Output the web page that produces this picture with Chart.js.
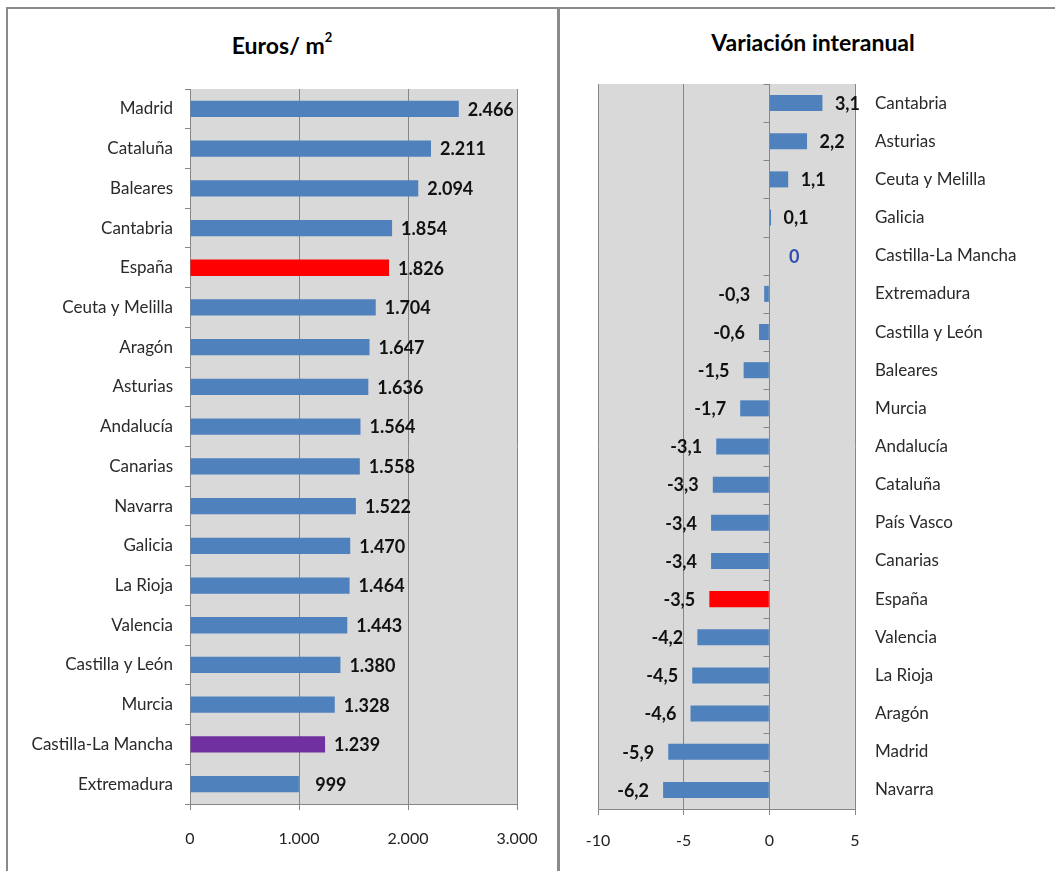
<!DOCTYPE html>
<html>
<head>
<meta charset="utf-8">
<script src="https://cdn.jsdelivr.net/npm/chart.js@4.4.1/dist/chart.umd.min.js"></script>
<style>
  body { margin: 0; background: #fff; width: 1055px; height: 871px; overflow: hidden; position: relative; font-family: Lato, "Open Sans", sans-serif; }
  .panel { position: absolute; top: 7px; border-top: 2px solid #8a8a8a; border-left: 2px solid #8a8a8a; box-sizing: border-box; }
  #leftPanel { left: 6px; width: 552px; height: 864px; }
  #rightPanel { left: 557px; width: 498px; height: 864px; border-left-width: 3px; }
  .title { position: absolute; font-weight: bold; font-size: 23px; color: #000; white-space: nowrap; transform: translate(-50%, -50%); }
  .title sup { font-size: 13px; vertical-align: top; position: relative; top: -2px; }
  .box { position: absolute; top: 8px; height: 863px; }
  #leftBox { left: 8px; width: 549px; }
  #rightBox { left: 560px; width: 495px; }
</style>
</head>
<body>
<div class="panel" id="leftPanel"></div>
<div class="panel" id="rightPanel"></div>
<div class="title" style="left:282px; top:45px;">Euros/ m<sup>2</sup></div>
<div class="title" style="left:813px; top:42px;">Variación interanual</div>
<div class="box" id="leftBox"><canvas id="priceChart"></canvas></div>
<div class="box" id="rightBox"><canvas id="changeChart"></canvas></div>

<script>
// Euros / m2 by region
const priceLabels = ['Madrid', 'Cataluña', 'Baleares', 'Cantabria', 'España', 'Ceuta y Melilla', 'Aragón', 'Asturias',
    'Andalucía', 'Canarias', 'Navarra', 'Galicia', 'La Rioja', 'Valencia', 'Castilla y León', 'Murcia',
    'Castilla-La Mancha', 'Extremadura'];
const priceValues = [2466, 2211, 2094, 1854, 1826, 1704, 1647, 1636, 1564, 1558, 1522, 1470, 1464, 1443, 1380, 1328, 1239, 999];
const priceTicks = [0, 1000, 2000, 3000];

// Variacion interanual (%)
const changeLabels = ['Cantabria', 'Asturias', 'Ceuta y Melilla', 'Galicia', 'Castilla-La Mancha', 'Extremadura',
    'Castilla y León', 'Baleares', 'Murcia', 'Andalucía', 'Cataluña', 'País Vasco', 'Canarias', 'España',
    'Valencia', 'La Rioja', 'Aragón', 'Madrid', 'Navarra'];
const changeValues = [3.1, 2.2, 1.1, 0.1, 0, -0.3, -0.6, -1.5, -1.7, -3.1, -3.3, -3.4, -3.4, -3.5, -4.2, -4.5, -4.6, -5.9, -6.2];
const changeTicks = [-10, -5, 0, 5];

const BLUE = '#4f81bd';
const highlight = { 'España': '#ff0000', 'Castilla-La Mancha': '#7030a0' };
const FONT = 'Lato, "Open Sans", sans-serif';
const GRID = '#868686';

function fmtThousands(v) {
    return String(v).replace(/\B(?=(\d{3})+(?!\d))/g, '.');
}
function fmtDecimal(v) {
    return v === 0 ? '0' : v.toFixed(1).replace('.', ',');
}

// gray plot area
const plotBackground = {
    id: 'plotBackground',
    beforeDraw(chart) {
        const a = chart.chartArea;
        chart.ctx.save();
        chart.ctx.fillStyle = '#d9d9d9';
        chart.ctx.fillRect(a.left, a.top, a.right - a.left, a.bottom - a.top);
        chart.ctx.restore();
    }
};

// bold value next to each bar end
const valueLabels = {
    id: 'valueLabels',
    afterDatasetsDraw(chart, args, opts) {
        const ctx = chart.ctx;
        const data = chart.data.datasets[0].data;
        ctx.save();
        ctx.font = 'bold 18px ' + FONT;
        ctx.textAlign = 'center';
        ctx.textBaseline = 'middle';
        chart.getDatasetMeta(0).data.forEach((bar, i) => {
            const v = data[i];
            const x = v < 0 ? bar.x - opts.negOffset : bar.x + opts.posOffset;
            ctx.fillStyle = v === 0 ? '#2f4fb0' : '#111';
            ctx.fillText(opts.format(v), x, bar.y + 1);
        });
        ctx.restore();
    }
};

// small category tick marks on the zero line (right chart)
const zeroTicks = {
    id: 'zeroTicks',
    afterDraw(chart) {
        const a = chart.chartArea;
        const x0 = Math.round(chart.scales.x.getPixelForValue(0)) + 0.5;
        const n = chart.data.labels.length;
        const ctx = chart.ctx;
        ctx.save();
        ctx.strokeStyle = GRID;
        ctx.lineWidth = 1;
        for (let i = 0; i <= n; i++) {
            const y = Math.round(a.top + i * (a.bottom - a.top) / n) + 0.5;
            ctx.beginPath();
            ctx.moveTo(x0 - 6, y);
            ctx.lineTo(x0, y);
            ctx.stroke();
        }
        ctx.restore();
    }
};

new Chart(document.getElementById('priceChart'), {
    type: 'bar',
    data: {
        labels: priceLabels,
        datasets: [{
            data: priceValues,
            backgroundColor: priceLabels.map(l => highlight[l] || BLUE),
            barPercentage: 1,
            categoryPercentage: 0.41
        }]
    },
    options: {
        indexAxis: 'y',
        responsive: true,
        maintainAspectRatio: false,
        animation: false,
        layout: { padding: { top: 81, right: 40, left: 0, bottom: 0 } },
        plugins: {
            legend: { display: false },
            tooltip: { enabled: false },
            valueLabels: { posOffset: 32, negOffset: 32, format: fmtThousands }
        },
        scales: {
            x: {
                min: 0,
                max: 3000,
                afterBuildTicks: axis => { axis.ticks = priceTicks.map(v => ({ value: v })); },
                afterFit: axis => { axis.height = 67; },
                grid: { color: GRID, tickLength: 6 },
                border: { color: GRID },
                ticks: { font: { family: FONT, size: 16 }, color: '#222', padding: 19, callback: v => fmtThousands(v) }
            },
            y: {
                afterFit: axis => { axis.width = 182; },
                grid: { drawOnChartArea: false, color: GRID, tickLength: 5 },
                border: { color: GRID },
                ticks: { font: { family: FONT, size: 17 }, color: '#2a2a2a', padding: 12 }
            }
        }
    },
    plugins: [plotBackground, valueLabels]
});

new Chart(document.getElementById('changeChart'), {
    type: 'bar',
    data: {
        labels: changeLabels,
        datasets: [{
            data: changeValues,
            backgroundColor: changeLabels.map(l => l === 'España' ? highlight[l] : BLUE),
            barPercentage: 1,
            categoryPercentage: 0.42
        }]
    },
    options: {
        indexAxis: 'y',
        responsive: true,
        maintainAspectRatio: false,
        animation: false,
        layout: { padding: { top: 76, right: 0, left: 38, bottom: 0 } },
        plugins: {
            legend: { display: false },
            tooltip: { enabled: false },
            valueLabels: { posOffset: 25, negOffset: 30, format: fmtDecimal }
        },
        scales: {
            x: {
                min: -10,
                max: 5,
                afterBuildTicks: axis => { axis.ticks = changeTicks.map(v => ({ value: v })); },
                afterFit: axis => { axis.height = 62; },
                grid: { color: GRID, tickLength: 6 },
                border: { color: GRID },
                ticks: { font: { family: FONT, size: 16 }, color: '#222', padding: 16 }
            },
            y: {
                position: 'right',
                afterFit: axis => { axis.width = 200; },
                grid: { display: false },
                border: { display: false },
                ticks: { font: { family: FONT, size: 17 }, color: '#2a2a2a', padding: 12 }
            }
        }
    },
    plugins: [plotBackground, valueLabels, zeroTicks]
});
</script>
</body>
</html>
